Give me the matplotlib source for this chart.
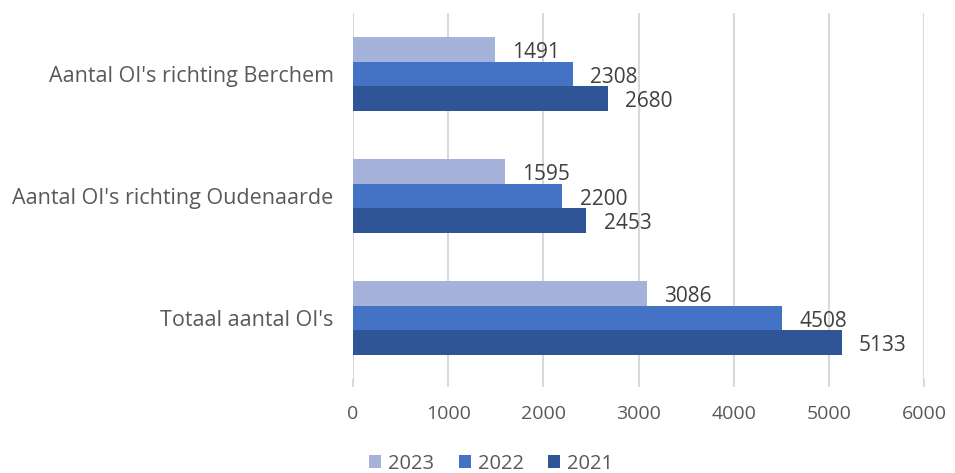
import matplotlib
matplotlib.use("Agg")
import numpy as np
from matplotlib import pyplot as plt

categories = ["Totaal aantal OI's", "Aantal OI's richting Oudenaarde", "Aantal OI's richting Berchem"]
jaren = ["2023", "2022", "2021"]
waarden_2023 = [3086, 1595, 1491]
waarden_2022 = [4508, 2200, 2308]
waarden_2021 = [5133, 2453, 2680]
kleuren = ["#A5B3DB", "#4472C4", "#2F5597"]
xticks = [0, 1000, 2000, 3000, 4000, 5000, 6000]

plt.rcParams['font.family'] = ['Open Sans', 'DejaVu Sans']
tekst = "#595959"
grid = "#D9D9D9"

fig = plt.figure(figsize=(9.55, 4.73), dpi=100)
ax = fig.add_axes([0.3696, 0.1987, 0.598, 0.7738])

y = np.arange(len(categories))
h = 0.2
reeksen = [waarden_2023, waarden_2022, waarden_2021]
for i, (vals, jaar, kleur) in enumerate(zip(reeksen, jaren, kleuren)):
    pos = y + h - i * h
    bars = ax.barh(pos, vals, height=h, color=kleur, label=jaar, zorder=3)
    # datalabels net rechts van de balk
    for b, v in zip(bars, vals):
        ax.text(b.get_width() + 180, b.get_y() + b.get_height() / 2 - 0.025, str(v),
                va="center", ha="left", fontsize=15, color="#404040", zorder=4)

ax.set_xlim(0, 6000)
ax.set_ylim(-0.5, 2.5)
ax.set_xticks(xticks)
ax.set_xticklabels([str(t) for t in xticks])
ax.set_yticks(y)
ax.set_yticklabels(categories)
ax.xaxis.grid(True, color=grid, linewidth=1.5, zorder=0)
for s in ax.spines.values():
    s.set_visible(False)
ax.tick_params(axis="x", colors=grid, length=6, width=1.5, labelsize=14, labelcolor=tekst, pad=13)
ax.tick_params(axis="y", length=0, labelsize=15.5, labelcolor=tekst, pad=14)

leg = ax.legend(loc="upper center", bbox_to_anchor=(0.242, -0.155), ncol=3, frameon=False,
                fontsize=14.5, handlelength=0.6, handleheight=0.6, handletextpad=0.35, columnspacing=1.2)
for t in leg.get_texts():
    t.set_color(tekst)

fig.savefig("out.png", dpi=100)
